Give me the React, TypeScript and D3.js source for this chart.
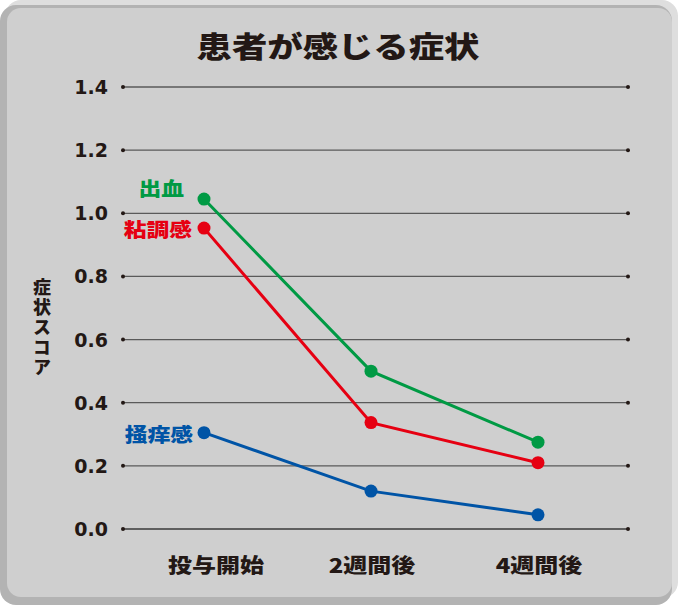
import React from "react";
import * as d3 from "d3";

const categories = ["投与開始", "2週間後", "4週間後"];
const seriesNames = ["出血", "粘調感", "掻痒感"];
const bleeding = [1.045, 0.5, 0.275];
const viscosity = [0.953, 0.337, 0.21];
const itching = [0.305, 0.12, 0.045];
const yTicks = [0, 0.2, 0.4, 0.6, 0.8, 1.0, 1.2, 1.4];
const title = "患者が感じる症状";
const yTitle = "症状スコア";

const colors = ["#009a44", "#e60012", "#0054a6"];
const FONT = "'Noto Sans CJK JP', 'Noto Sans', sans-serif";
const NUMFONT = "'DejaVu Sans', sans-serif";
const TEXT = "#231815";

function WideText(props: {
  x: number;
  y: number;
  sx: number;
  size: number;
  anchor: string;
  fill: string;
  children: React.ReactNode;
}) {
  return (
    <g transform={`translate(${props.x},${props.y}) scale(${props.sx},1)`}>
      <text
        x={0}
        y={0}
        textAnchor={props.anchor}
        fontFamily={FONT}
        fontWeight={900}
        fontSize={props.size}
        fill={props.fill}
      >
        {props.children}
      </text>
    </g>
  );
}

export default function App() {
  const W = 678, H = 605;
  const y = d3.scaleLinear().domain([0, 1.4]).range([529, 87]);
  const x = d3.scalePoint<string>().domain(categories).range([204, 538]);
  const series = [bleeding, viscosity, itching];
  const line = d3
    .line<number>()
    .x((_, i) => x(categories[i]) as number)
    .y((d) => y(d));
  const labelDy = [-10, 2, 2];
  const labelDx = [-20, -12, -11];
  return (
    <svg width={W} height={H} style={{ position: "absolute", left: 0, top: 0 }}>
      <rect x={5} y={0} width={673} height={598} rx={16} fill="#dedede" />
      <rect x={0} y={5} width={672} height={600} rx={16} fill="#b3b3b3" />
      <rect x={7} y={8} width={665} height={589} rx={14} fill="#cfcfcf" />
      <WideText x={338} y={58} sx={1.22} size={29} anchor="middle" fill={TEXT}>
        {title}
      </WideText>
      {yTicks.map((t) => (
        <g key={t}>
          <line x1={123} x2={628} y1={y(t)} y2={y(t)} stroke={t === 0 ? "#3a3a3a" : "#5a5a5a"} strokeWidth={1.3} />
          <circle cx={123} cy={y(t)} r={2} fill={TEXT} />
          <circle cx={628} cy={y(t)} r={2} fill={TEXT} />
          <text x={108} y={y(t) + 7} textAnchor="end" fontFamily={NUMFONT} fontWeight={700} fontSize={19} fill={TEXT}>
            {t.toFixed(1)}
          </text>
        </g>
      ))}
      {categories.map((c, i) => (
        <WideText key={c} x={(x(c) as number) + (i === 0 ? 12 : 1)} y={573} sx={1.2} size={20} anchor="middle" fill={TEXT}>
          {c}
        </WideText>
      ))}
      <text
        x={42}
        y={278}
        fontFamily={FONT}
        fontWeight={900}
        fontSize={18}
        fill={TEXT}
        letterSpacing={2}
        style={{ writingMode: "vertical-rl", textOrientation: "upright" } as React.CSSProperties}
      >
        {yTitle}
      </text>
      {series.map((s, k) => (
        <g key={k}>
          <path d={line(s) || ""} fill="none" stroke={colors[k]} strokeWidth={3} />
          {s.map((v, i) => (
            <circle key={i} cx={x(categories[i]) as number} cy={y(v)} r={6.5} fill={colors[k]} />
          ))}
          <WideText
            x={(x(categories[0]) as number) + labelDx[k]}
            y={y(s[0]) + 7 + labelDy[k]}
            sx={1.2}
            size={19}
            anchor="end"
            fill={colors[k]}
          >
            {seriesNames[k]}
          </WideText>
        </g>
      ))}
    </svg>
  );
}
